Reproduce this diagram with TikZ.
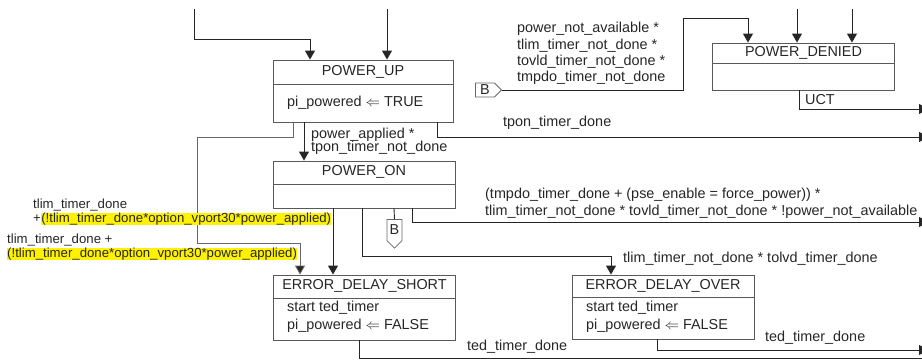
\documentclass[tikz,border=0pt]{standalone}
\usepackage{fontspec}
\setmainfont{Liberation Sans}
\usetikzlibrary{arrows.meta, positioning, shapes.symbols}

\begin{document}
\begin{tikzpicture}[x=1pt, y=-1pt,
    font=\fontsize{14.4}{16.5}\selectfont,
    state/.style={draw=black!65, line width=0.9pt, minimum width=182pt, inner sep=0pt},
    statename/.style={anchor=north, minimum width=182pt, inner sep=0pt, text=black!85},
    statebody/.style={anchor=west, align=left, inner sep=0pt, text=black!85, font=\fontsize{14.4}{18}\selectfont},
    part/.style={draw=black!65, line width=0.9pt},
    trans/.style={draw=black!85, line width=0.9pt, -{Triangle[width=10pt,length=9pt]}},
    wire/.style={draw=black!85, line width=0.9pt},
    cond/.style={anchor=west, align=left, inner sep=0pt, text=black!85},
    hl/.style={anchor=west, inner sep=0pt, text=black!85, font=\fontsize{13.2}{14}\selectfont},
    bconn/.style={shape=signal, draw=black!60, line width=0.8pt, inner sep=0pt, text=black!85}]

    \useasboundingbox (0,0) rectangle (922,360);
    \clip (0,0) rectangle (922,360);

    % POWER_UP
    \node[state, minimum width=180pt, minimum height=62pt] (up) at (363,91) {};
    \node[statename, minimum width=180pt, minimum height=24pt] (upname) at (up.north) {POWER\_UP};
    \draw[part] (upname.south west) -- (upname.south east);
    \node[statebody] (upbody) at (287,103) {pi\_powered $\Leftarrow$ TRUE};

    % POWER_ON
    \node[state, minimum height=47pt] (on) at (364,184.5) {};
    \node[statename, minimum height=23pt] (onname) at (on.north) {POWER\_ON};
    \draw[part] (onname.south west) -- (onname.south east);

    % ERROR_DELAY_SHORT
    \node[state, minimum height=65pt] (short) at (364.5,307.5) {};
    \node[statename, minimum height=23pt] (shortname) at (short.north) {ERROR\_DELAY\_SHORT};
    \draw[part] (shortname.south west) -- (shortname.south east);
    \node[statebody] (shortbody) at (287,317) {start ted\_timer\\pi\_powered $\Leftarrow$ FALSE};

    % ERROR_DELAY_OVER
    \node[state, minimum height=64pt] (over) at (663,307) {};
    \node[statename, minimum height=22pt] (overname) at (over.north) {ERROR\_DELAY\_OVER};
    \draw[part] (overname.south west) -- (overname.south east);
    \node[statebody] (overbody) at (586,316.5) {start ted\_timer\\pi\_powered $\Leftarrow$ FALSE};

    % POWER_DENIED
    \node[state, minimum height=47pt] (denied) at (803.5,66.5) {};
    \node[statename, minimum height=20pt] (deniedname) at (denied.north) {POWER\_DENIED};
    \draw[part] (deniedname.south west) -- (deniedname.south east);

    % off-page connectors
    \node[bconn, signal to=east, minimum width=26pt, minimum height=14pt] (bright) at (485,90) {B};
    \node[bconn, signal to=south, minimum width=15pt, minimum height=26pt] (bdown) at (394.5,230) {B};

    % loose ends
    \coordinate (inA) at (194,9);
    \coordinate (inB) at (387,9);
    \coordinate (inC) at (797,9);
    \coordinate (inD) at (852,9);
    \coordinate (outA) at (928,137);
    \coordinate (outB) at (928,222);
    \coordinate (outC) at (940,358);
    \coordinate (outD) at (928,350);
    \coordinate (outE) at (928,109);

    % transitions
    \draw[trans] (inA) -- ++(0,30) -| ([xshift=-53pt]up.north);
    \draw[trans] (inB) -- (inB |- up.north);
    \draw[trans] ([xshift=-59pt]up.south) -- ([xshift=-59pt]up.south |- on.north);
    \draw[trans, draw=black!60, -{Triangle[width=10pt,length=9pt,fill=black!85]}] ([xshift=-70pt]up.south) -- ++(0,15) -| ++(-96,106) -| ([xshift=-64.5pt]short.north);
    \draw[trans] ([xshift=74pt]up.south) |- (outA);
    \draw[trans] ([xshift=-31pt]on.south) -- ([xshift=-31pt]on.south |- short.north);
    \draw[trans] ([xshift=-2pt]on.south) -- ++(0,48) -| ([xshift=-52pt]over.north);
    \draw[wire] ([xshift=30pt]on.south) -- (bdown.north);
    \draw[trans] ([xshift=48pt]on.south) |- (outB);
    \draw[trans] ([xshift=-5.5pt]short.south) |- (outC);
    \draw[trans] ([xshift=-6pt]over.south) |- (outD);
    \draw[trans] (bright.east) -| (683,18) -| ([xshift=-55.5pt]denied.north);
    \draw[trans] (inC) -- (inC |- denied.north);
    \draw[trans] (inD) -- (inD |- denied.north);
    \draw[trans] ([xshift=-4.5pt]denied.south) |- (outE);

    % conditions
    \node[cond, font=\fontsize{14.4}{13.5}\selectfont] (lapplied) at (311,141.5) {power\_applied *\\tpon\_timer\_not\_done};
    \node[cond] (ltpon) at (503,123) {tpon\_timer\_done};
    \node[cond, font=\fontsize{14.4}{16.3}\selectfont] (lavail) at (517,53.5) {power\_not\_available *\\tlim\_timer\_not\_done *\\tovld\_timer\_not\_done *\\tmpdo\_timer\_not\_done};
    \node[cond] (luct) at (805,100) {UCT};
    \node[cond, font=\fontsize{14.4}{17}\selectfont] (lforce) at (485,203.5) {(tmpdo\_timer\_done + (pse\_enable = force\_power)) *\\tlim\_timer\_not\_done * tovld\_timer\_not\_done * !power\_not\_available};
    \node[cond] (ltolvd) at (623,259) {tlim\_timer\_not\_done * tolvd\_timer\_done};
    \node[cond] (ltedA) at (467,347) {ted\_timer\_done};
    \node[cond] (ltedB) at (765,338) {ted\_timer\_done};

    % highlighted conditions
    \node[hl] (limA) at (33,205) {tlim\_timer\_done};
    \node[hl] (plusA) at (33,219) {+};
    \node[hl, fill=yellow, right=0pt of plusA] (vportA) {(!tlim\_timer\_done*option\_vport30*power\_applied)};
    \node[hl] (limB) at (7,240) {tlim\_timer\_done +};
    \node[hl, fill=yellow] (vportB) at (7,254) {(!tlim\_timer\_done*option\_vport30*power\_applied)};
\end{tikzpicture}
\end{document}
